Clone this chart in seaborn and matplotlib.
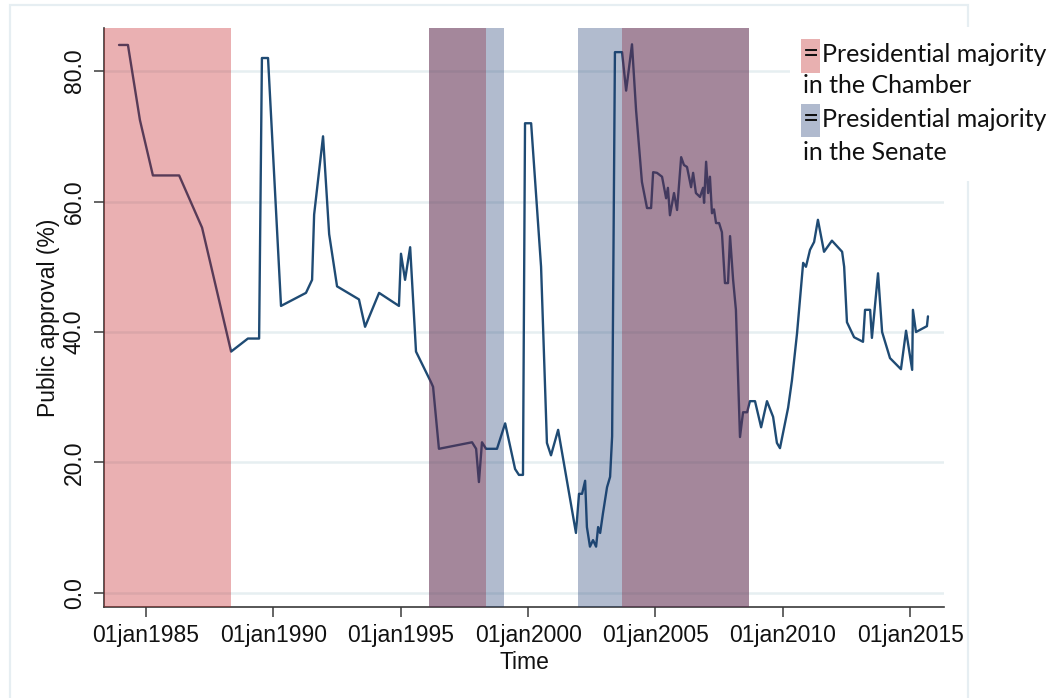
import matplotlib
matplotlib.use("Agg")
import matplotlib.pyplot as plt
import seaborn as sns
import pandas as pd
from matplotlib.patches import Rectangle

# ---------------- data ----------------
years = [1983.94, 1984.29, 1984.76, 1985.27, 1986.30, 1987.20, 1988.34, 1989.00, 1989.44, 1989.55,
         1989.79, 1990.30, 1991.28, 1991.52, 1991.60, 1991.95, 1992.19, 1992.50, 1993.36, 1993.60,
         1994.15, 1994.93, 1995.01, 1995.17, 1995.37, 1995.60, 1996.19, 1996.27, 1996.50, 1997.80,
         1997.96, 1998.07, 1998.19, 1998.35, 1998.78, 1999.10, 1999.49, 1999.64, 1999.80, 1999.88,
         2000.12, 2000.51, 2000.74, 2000.90, 2001.18, 2001.88, 2002.00, 2002.12, 2002.24, 2002.31,
         2002.43, 2002.55, 2002.67, 2002.75, 2002.83, 2002.94, 2003.10, 2003.22, 2003.30, 2003.41,
         2003.69, 2003.85, 2004.08, 2004.24, 2004.47, 2004.67, 2004.83, 2004.91, 2005.06, 2005.26,
         2005.42, 2005.49, 2005.57, 2005.73, 2005.85, 2006.01, 2006.12, 2006.24, 2006.40, 2006.48,
         2006.59, 2006.75, 2006.87, 2006.91, 2006.99, 2007.07, 2007.14, 2007.22, 2007.30, 2007.38,
         2007.50, 2007.61, 2007.73, 2007.85, 2007.93, 2008.05, 2008.16, 2008.32, 2008.44, 2008.60,
         2008.71, 2008.91, 2009.15, 2009.38, 2009.62, 2009.77, 2009.89, 2010.21, 2010.36, 2010.56,
         2010.80, 2010.91, 2011.07, 2011.23, 2011.38, 2011.62, 2011.93, 2012.33, 2012.41, 2012.52,
         2012.80, 2013.15, 2013.23, 2013.43, 2013.50, 2013.74, 2013.90, 2014.21, 2014.64, 2014.84,
         2015.08, 2015.11, 2015.23, 2015.66, 2015.70]
approval = [84.0, 84.0, 72.5, 64.0, 64.0, 56.0, 37.0, 39.0, 39.0, 82.0,
            82.0, 44.0, 46.0, 48.0, 58.0, 70.0, 55.0, 47.0, 45.0, 40.8,
            46.0, 44.0, 52.0, 48.0, 53.0, 37.0, 32.3, 31.6, 22.1, 23.1,
            22.1, 17.0, 23.1, 22.1, 22.1, 26.0, 19.0, 18.1, 18.1, 72.0,
            72.0, 50.0, 23.0, 21.1, 25.0, 9.2, 15.2, 15.2, 17.2, 10.1,
            7.1, 8.1, 7.1, 10.1, 9.2, 12.2, 16.2, 17.8, 24.0, 82.9,
            82.9, 77.0, 84.1, 74.0, 63.0, 59.0, 59.0, 64.5, 64.4, 63.8,
            60.5, 62.1, 57.9, 61.3, 58.7, 66.8, 65.6, 65.3, 62.2, 64.4,
            61.3, 60.7, 62.1, 59.8, 66.1, 61.3, 63.8, 58.2, 58.8, 56.7,
            56.7, 55.3, 47.5, 47.5, 54.7, 48.0, 43.4, 23.9, 27.7, 27.7,
            29.4, 29.4, 25.4, 29.4, 27.0, 23.0, 22.2, 28.4, 32.6, 39.8,
            50.6, 50.0, 52.6, 53.8, 57.2, 52.3, 54.0, 52.3, 50.0, 41.5,
            39.2, 38.5, 43.4, 43.4, 39.1, 49.0, 40.0, 36.0, 34.3, 40.2,
            34.2, 43.4, 40.0, 40.9, 42.4]

chamber_periods = [(1983.35, 1988.34), (1996.11, 1998.35), (2003.69, 2008.68)]
senate_periods = [(1996.11, 1999.06), (2001.96, 2008.68)]

x_tick_years = [1985, 1990, 1995, 2000, 2005, 2010, 2015]
x_tick_labels = ["01jan1985", "01jan1990", "01jan1995", "01jan2000",
                 "01jan2005", "01jan2010", "01jan2015"]
y_ticks = [0, 20, 40, 60, 80]
y_tick_labels = ["0.0", "20.0", "40.0", "60.0", "80.0"]

legend_chamber = ["Presidential majority", "in the Chamber"]
legend_senate = ["Presidential majority", "in the Senate"]

# ---------------- style ----------------
sns.set_theme(style="white")
plt.rcParams["font.family"] = ["Liberation Sans", "DejaVu Sans"]

W, H = 1053, 698
fig = plt.figure(figsize=(W / 100, H / 100), dpi=100)
fig.patch.set_facecolor("white")


def fx(px):
    return px / W


def fy(py):
    return 1 - py / H


# outer light frame (graph region)
fig.add_artist(Rectangle((fx(10), fy(720)), fx(968) - fx(10), fy(5) - fy(720),
                         transform=fig.transFigure, facecolor="none",
                         edgecolor="#e6eef2", lw=1.6, zorder=0))

ax = fig.add_axes([fx(104), fy(607), fx(944) - fx(104), fy(28) - fy(607)])
ax.set_facecolor("none")

df = pd.DataFrame({"Time": years, "Public approval (%)": approval})
sns.lineplot(data=df, x="Time", y="Public approval (%)", ax=ax, sort=False,
             estimator=None, color="#1f4b74", lw=1.7, zorder=2)

red = (196 / 255, 30 / 255, 35 / 255)
navy = (29 / 255, 58 / 255, 112 / 255)
for s, e in chamber_periods:
    ax.axvspan(s, e, color=red, alpha=0.35, lw=0, zorder=3)
for s, e in senate_periods:
    ax.axvspan(s, e, color=navy, alpha=0.34, lw=0, zorder=3)

ax.set_xlim(1983.35, 2016.33)
ax.set_ylim(-2.15, 86.6)

ax.yaxis.grid(True, color="#e6eff1", lw=1.8)
ax.xaxis.grid(False)
ax.set_axisbelow(True)

for sp in ["top", "right"]:
    ax.spines[sp].set_visible(False)
for sp in ["left", "bottom"]:
    ax.spines[sp].set_color("#3a3a3a")
    ax.spines[sp].set_linewidth(1.2)

ax.set_xticks(x_tick_years)
ax.set_xticklabels(x_tick_labels)
ax.set_yticks(y_ticks)
ax.set_yticklabels(y_tick_labels, rotation=90, va="center")
ax.tick_params(axis="both", direction="out", length=7, width=1.1, color="#3a3a3a",
               labelsize=16.5, labelcolor="#111111", bottom=True, left=True)
ax.tick_params(axis="x", pad=5)
ax.tick_params(axis="y", pad=6)

ax.set_xlabel("Time", fontsize=16.5, color="#111111", labelpad=3)
ax.set_ylabel("Public approval (%)", fontsize=16.5, color="#111111", labelpad=2)

# ---------------- legend (pasted box) ----------------
fig.add_artist(Rectangle((fx(790), fy(181)), fx(1053) - fx(790), fy(27) - fy(181),
                         transform=fig.transFigure, facecolor="white",
                         edgecolor="none", zorder=10))
fig.add_artist(Rectangle((fx(801), fy(73)), fx(820) - fx(801), fy(39) - fy(73),
                         transform=fig.transFigure, facecolor="#e8b0b0",
                         edgecolor="none", zorder=11))
fig.add_artist(Rectangle((fx(801), fy(137)), fx(820) - fx(801), fy(104) - fy(137),
                         transform=fig.transFigure, facecolor="#b0bace",
                         edgecolor="none", zorder=11))

lfont = dict(family=["Lato", "DejaVu Sans"], fontsize=18, color="#111111", zorder=12,
             va="baseline", ha="left")
fig.text(fx(810.5), fy(62), "=", **{**lfont, "ha": "center", "fontsize": 20})
fig.text(fx(822), fy(62), legend_chamber[0], **lfont)
fig.text(fx(803), fy(93), legend_chamber[1], **lfont)
fig.text(fx(810.5), fy(127), "=", **{**lfont, "ha": "center", "fontsize": 20})
fig.text(fx(822), fy(127), legend_senate[0], **lfont)
fig.text(fx(803), fy(160), legend_senate[1], **lfont)

fig.savefig("out.png", dpi=100)
